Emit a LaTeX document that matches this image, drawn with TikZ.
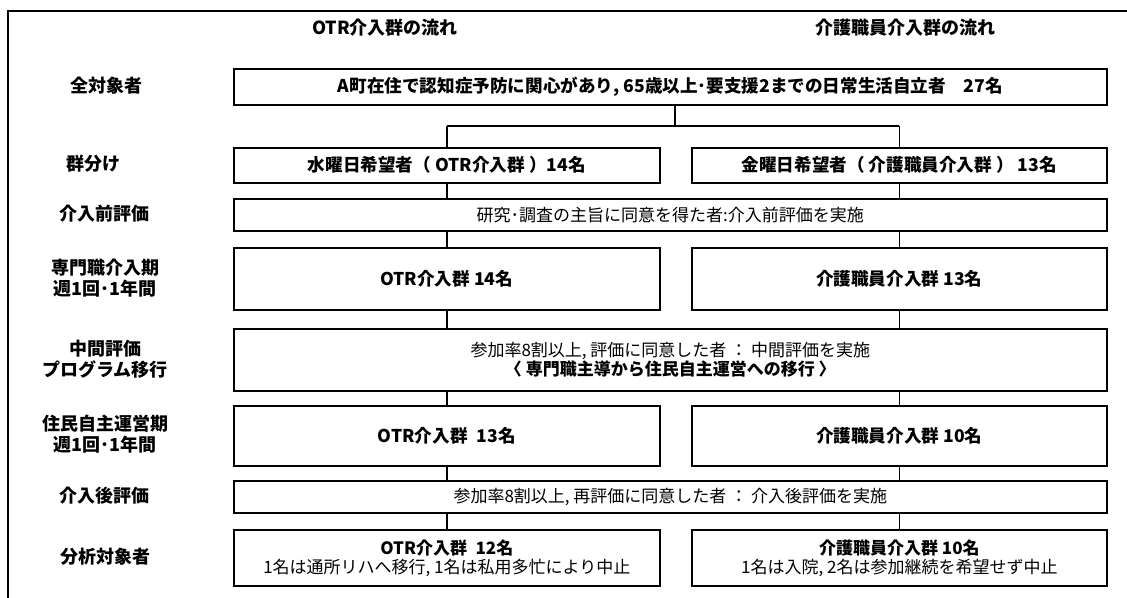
\documentclass[tikz,border=0pt]{standalone}
\usepackage{fontspec}
\setmainfont{Noto Sans CJK JP}
\begin{document}
\begin{tikzpicture}[x=1pt,y=-1pt,
  box/.style={draw,line width=1.6pt,inner sep=0pt,anchor=north west,align=center,font=\fontsize{17}{19}\selectfont},
  lab/.style={font=\fontsize{18}{21}\selectfont\bfseries,align=center,inner sep=0pt},
  conn/.style={line width=1.6pt}]
\useasboundingbox (0,0) rectangle (1127,597);
\fill[white] (0,0) rectangle (1127,597);
% frame (open at right and bottom)
\coordinate (fbl) at (8,600);
\coordinate (ftl) at (8,11);
\coordinate (ftr) at (1130,11);
\draw[line width=1.6pt] (fbl) -- (ftl) -- (ftr);
% headers
\node[lab] (h1) at (385,28) {OTR介入群の流れ};
\node[lab] (h2) at (905,28) {介護職員介入群の流れ};
% left labels
\node[lab] (l1) at (106,86) {全対象者};
\node[lab] (l2) at (93,164) {群分け};
\node[lab] (l3) at (104,214) {介入前評価};
\node[lab] (l4) at (105,278) {専門職介入期\\週1回･1年間};
\node[lab] (l5) at (105,359) {中間評価\\プログラム移行};
\node[lab] (l6) at (105,434) {住民自主運営期\\週1回･1年間};
\node[lab] (l7) at (104,496) {介入後評価};
\node[lab] (l8) at (105,557) {分析対象者};
% boxes
\node[box,minimum width=873pt,minimum height=36pt,font=\fontsize{17.6}{19}\selectfont] (r1) at (233,68) {\bfseries A町在住で認知症予防に関心があり, 65歳以上･要支援2までの日常生活自立者\quad 27名};
\node[box,minimum width=426pt,minimum height=35pt,font=\fontsize{17.6}{19}\selectfont] (r2l) at (233,147) {\bfseries 水曜日希望者（ OTR介入群 ）14名};
\node[box,minimum width=415pt,minimum height=35pt,font=\fontsize{17.6}{19}\selectfont] (r2r) at (691,147) {\bfseries 金曜日希望者（ 介護職員介入群 ） 13名};
\node[box,minimum width=873pt,minimum height=32pt] (r3) at (233,198) {研究･調査の主旨に同意を得た者:介入前評価を実施};
\node[box,minimum width=426pt,minimum height=62pt,font=\fontsize{17.6}{19}\selectfont] (r4l) at (233,247) {\bfseries OTR介入群 14名};
\node[box,minimum width=415pt,minimum height=62pt,font=\fontsize{17.6}{19}\selectfont] (r4r) at (691,247) {\bfseries 介護職員介入群 13名};
\node[box,minimum width=873pt,minimum height=62pt] (r5) at (233,328) {参加率8割以上, 評価に同意した者 ： 中間評価を実施\\\bfseries 〈 専門職主導から住民自主運営への移行 〉};
\node[box,minimum width=426pt,minimum height=60pt,font=\fontsize{17.6}{19}\selectfont] (r6l) at (233,405) {\bfseries OTR介入群\enspace 13名};
\node[box,minimum width=415pt,minimum height=60pt,font=\fontsize{17.6}{19}\selectfont] (r6r) at (691,405) {\bfseries 介護職員介入群 10名};
\node[box,minimum width=873pt,minimum height=32pt] (r7) at (233,480) {参加率8割以上, 再評価に同意した者 ： 介入後評価を実施};
\node[box,minimum width=426pt,minimum height=56pt] (r8l) at (233,529) {{\bfseries OTR介入群\enspace 12名}\\1名は通所リハへ移行, 1名は私用多忙により中止};
\node[box,minimum width=415pt,minimum height=56pt] (r8r) at (691,529) {{\bfseries 介護職員介入群 10名}\\1名は入院, 2名は参加継続を希望せず中止};
% connectors
\coordinate (jt) at (675,104);
\coordinate (j) at (675,126);
\draw[conn] (jt) -- (j);
\draw[conn] (j -| r2l.north) -- (j -| r2r.north);
\draw[conn] (j -| r2l.north) -- (r2l.north);
\draw[conn] (j -| r2r.north) -- (r2r.north);
\foreach \a/\b in {r2l/r3,r2r/r3,r4l/r5,r4r/r5,r6l/r7,r6r/r7}{
  \draw[conn] (\a.south) -- (\a.south |- \b.north);
}
\foreach \a/\b in {r3/r4l,r3/r4r,r5/r6l,r5/r6r,r7/r8l,r7/r8r}{
  \draw[conn] (\a.south -| \b.north) -- (\b.north);
}
\end{tikzpicture}
\end{document}
